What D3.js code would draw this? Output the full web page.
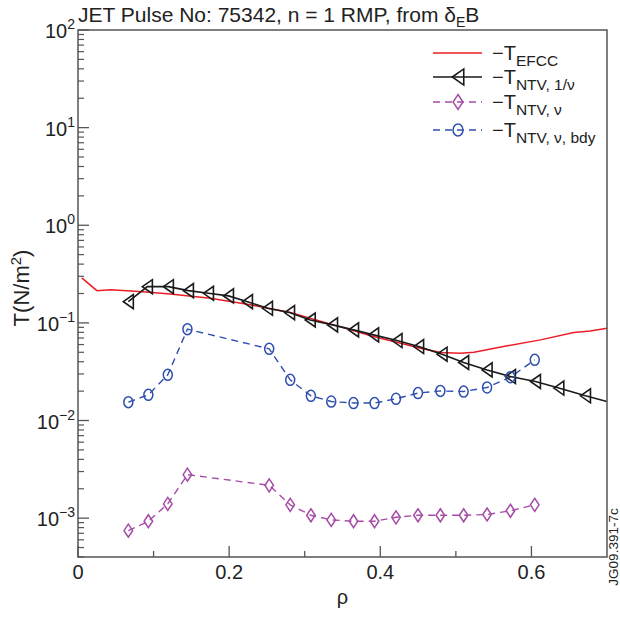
<!DOCTYPE html>
<html><head><meta charset="utf-8">
<script src="https://cdn.jsdelivr.net/npm/d3@7"></script>
<style>body{margin:0;background:#fff} svg{display:block;font-family:"Liberation Sans",Arial,Helvetica,sans-serif}</style>
</head><body><svg id="c" width="620" height="617"></svg>
<script>
// ---- data ----
const efccRho = [0.005, 0.025, 0.043, 0.086, 0.122, 0.175, 0.228, 0.281, 0.307, 0.338, 0.391, 0.427, 0.453, 0.480, 0.506, 0.524, 0.568, 0.612, 0.656, 0.678, 0.700];
const efccVal = [0.289, 0.214, 0.218, 0.208, 0.198, 0.179, 0.153, 0.1275, 0.1117, 0.0954, 0.0724, 0.062, 0.0551, 0.0497, 0.049, 0.0501, 0.0582, 0.067, 0.0796, 0.0828, 0.0883];

const ntvInvRho = [0.0666, 0.0918, 0.1196, 0.1461, 0.1726, 0.1991, 0.2242, 0.2507, 0.2799, 0.3073, 0.3368, 0.3646, 0.3911, 0.4221, 0.4507, 0.4817, 0.5103, 0.5413, 0.5722, 0.6053, 0.6362, 0.6715];
const ntvInvVal = [0.165, 0.235, 0.235, 0.214, 0.201, 0.189, 0.165, 0.141, 0.1275, 0.107, 0.0954, 0.0848, 0.0754, 0.0659, 0.0572, 0.0478, 0.0393, 0.0330, 0.0282, 0.0251, 0.0215, 0.0179];
const ntvInvEndRho = 0.700;
const ntvInvEndVal = 0.01565;

const ntvNuRho = [0.0666, 0.0931, 0.1188, 0.1448, 0.2530, 0.2808, 0.3082, 0.3351, 0.3646, 0.3924, 0.4208, 0.4499, 0.4795, 0.5103, 0.5413, 0.5722, 0.6044];
const ntvNuVal = [7.45e-4, 9.3e-4, 1.40e-3, 2.79e-3, 2.17e-3, 1.37e-3, 1.07e-3, 9.6e-4, 9.3e-4, 9.3e-4, 1.02e-3, 1.07e-3, 1.07e-3, 1.07e-3, 1.09e-3, 1.19e-3, 1.37e-3];

const ntvBdyRho = ntvNuRho;
const ntvBdyVal = [0.01543, 0.01833, 0.0294, 0.0862, 0.0542, 0.0261, 0.0179, 0.01565, 0.0151, 0.0151, 0.0167, 0.0191, 0.0201, 0.0198, 0.0218, 0.0278, 0.0418];

const xTickLabels = ["0", "0.2", "0.4", "0.6"];
const xTickValues = [0, 0.2, 0.4, 0.6];
const xMinorValues = [0.1, 0.3, 0.5];
const yTickExps = [-3, -2, -1, 0, 1, 2];

// ---- layout ----
const svg = d3.select("#c");
const L = 78, R = 607, T = 30, B = 557;
const x = d3.scaleLinear().domain([0, 0.7]).range([L, R]);
const y = d3.scaleLog().domain([4e-4, 100]).range([B, T]);
const frame = "#555";

const red = "#ec1c24", black = "#1a1a1a", purple = "#a64ca6", blue = "#2f4fae";

svg.append("clipPath").attr("id", "clip").append("rect")
  .attr("x", L).attr("y", T).attr("width", R - L).attr("height", B - T);
const plot = svg.append("g").attr("clip-path", "url(#clip)");

const line = d3.line().x(d => x(d[0])).y(d => y(d[1]));

plot.append("path").datum(efccRho.map((r, i) => [r, efccVal[i]]))
  .attr("d", line).attr("fill", "none").attr("stroke", red).attr("stroke-width", 1.5);

const nuData = ntvNuRho.map((r, i) => [r, ntvNuVal[i]]);
plot.append("path").datum(nuData).attr("d", line).attr("fill", "none")
  .attr("stroke", purple).attr("stroke-width", 1.4).attr("stroke-dasharray", "7,5");
const bdyData = ntvBdyRho.map((r, i) => [r, ntvBdyVal[i]]);
plot.append("path").datum(bdyData).attr("d", line).attr("fill", "none")
  .attr("stroke", blue).attr("stroke-width", 1.4).attr("stroke-dasharray", "7,5");
const invData = ntvInvRho.map((r, i) => [r, ntvInvVal[i]]);
plot.append("path").datum(invData.concat([[ntvInvEndRho, ntvInvEndVal]])).attr("d", line)
  .attr("fill", "none").attr("stroke", black).attr("stroke-width", 1.6);

const triPath = "M-5,0L5,-7L5,7Z";
const diaPath = "M0,-6.5L4.3,0L0,6.5L-4.3,0Z";
function tri(g, cx, cy, s = 1) {
  g.append("path").attr("d", triPath).attr("transform", `translate(${cx},${cy}) scale(${s})`)
    .attr("fill", "none").attr("stroke", black).attr("stroke-width", 1.6 / s);
}
function dia(g, cx, cy, s = 1) {
  g.append("path").attr("d", diaPath).attr("transform", `translate(${cx},${cy}) scale(${s})`)
    .attr("fill", "none").attr("stroke", purple).attr("stroke-width", 1.5 / s);
}
function ell(g, cx, cy, s = 1) {
  g.append("ellipse").attr("cx", cx).attr("cy", cy).attr("rx", 4.5 * s).attr("ry", 5.5 * s)
    .attr("fill", "none").attr("stroke", blue).attr("stroke-width", 1.5);
}
invData.forEach(d => tri(plot, x(d[0]), y(d[1])));
nuData.forEach(d => dia(plot, x(d[0]), y(d[1])));
bdyData.forEach(d => ell(plot, x(d[0]), y(d[1])));

svg.append("rect").attr("x", L).attr("y", T).attr("width", R - L).attr("height", B - T)
  .attr("fill", "none").attr("stroke", frame).attr("stroke-width", 1.5);

const ax = svg.append("g");
xTickValues.forEach((v, i) => {
  ax.append("line").attr("x1", x(v)).attr("x2", x(v)).attr("y1", B).attr("y2", B - 11)
    .attr("stroke", frame).attr("stroke-width", 1.3);
  ax.append("text").attr("x", x(v)).attr("y", 579).attr("text-anchor", "middle")
    .attr("font-size", 20).attr("fill", "#222").text(xTickLabels[i]);
});
xMinorValues.forEach(v => {
  ax.append("line").attr("x1", x(v)).attr("x2", x(v)).attr("y1", B).attr("y2", B - 6)
    .attr("stroke", frame).attr("stroke-width", 1.3);
});
svg.append("text").attr("x", (L + R) / 2).attr("y", 604).attr("text-anchor", "middle")
  .attr("font-size", 20).attr("fill", "#222").text("ρ");

const ay = svg.append("g");
yTickExps.forEach(e => {
  const v = Math.pow(10, e);
  ay.append("line").attr("x1", L).attr("x2", L + 11).attr("y1", y(v)).attr("y2", y(v))
    .attr("stroke", frame).attr("stroke-width", 1.3);
  const t = ay.append("text").attr("x", 75).attr("y", y(v) + 8).attr("text-anchor", "end")
    .attr("font-size", 20).attr("fill", "#222");
  t.append("tspan").text("10");
  t.append("tspan").attr("dy", -9).attr("font-size", 14).text(e < 0 ? "\u2212" + (-e) : String(e));
  for (let m = 2; m <= 9; m++) {
    const mv = m * v;
    if (mv < 4e-4 || mv > 100) continue;
    ay.append("line").attr("x1", L).attr("x2", L + 6).attr("y1", y(mv)).attr("y2", y(mv))
      .attr("stroke", frame).attr("stroke-width", 1.2);
  }
});
[4e-4, 5e-4, 6e-4, 7e-4, 8e-4, 9e-4].forEach(mv => {
  ay.append("line").attr("x1", L).attr("x2", L + 6).attr("y1", y(mv)).attr("y2", y(mv))
    .attr("stroke", frame).attr("stroke-width", 1.2);
});

const yl = svg.append("text").attr("transform", "translate(29,288) rotate(-90)")
  .attr("text-anchor", "middle").attr("font-size", 22).attr("fill", "#222");
yl.append("tspan").text("T(N/m");
yl.append("tspan").attr("dy", -8).attr("font-size", 15).text("2");
yl.append("tspan").attr("dy", 8).text(")");

const tt = svg.append("text").attr("x", 78).attr("y", 22).attr("font-size", 21).attr("fill", "#222");
tt.append("tspan").text("JET Pulse No: 75342, n = 1 RMP, from δ");
tt.append("tspan").attr("dy", 5).attr("font-size", 14).text("E");
tt.append("tspan").attr("dy", -5).text("B");

const legend = [
  {sub: "EFCC", type: "efcc"},
  {sub: "NTV, 1/ν", type: "inv"},
  {sub: "NTV, ν", type: "nu"},
  {sub: "NTV, ν, bdy", type: "bdy"}
];
const legY = [53, 77, 102, 130];
const lg = svg.append("g");
legend.forEach((d, i) => {
  const yy = legY[i];
  const col = d.type === "efcc" ? red : d.type === "inv" ? black : d.type === "nu" ? purple : blue;
  const ln = lg.append("line").attr("x1", 433).attr("x2", 482).attr("y1", yy).attr("y2", yy)
    .attr("stroke", col).attr("stroke-width", d.type === "inv" ? 1.6 : 1.4);
  if (d.type === "nu" || d.type === "bdy") ln.attr("stroke-dasharray", "7,5");
  if (d.type === "inv") tri(lg, 458, yy, 1.15);
  if (d.type === "nu") dia(lg, 458, yy, 1.15);
  if (d.type === "bdy") ell(lg, 458, yy, 1.1);
  const t = lg.append("text").attr("x", 492).attr("y", yy + 7).attr("font-size", 20).attr("fill", "#222");
  t.append("tspan").text("\u2212T");
  t.append("tspan").attr("dy", 6).attr("font-size", 15.5).text(d.sub);
});

svg.append("text").attr("transform", "translate(618,547) rotate(-90)").attr("text-anchor", "middle")
  .attr("font-size", 13.5).attr("fill", "#222").text("JG09.391-7c");
</script></body></html>
